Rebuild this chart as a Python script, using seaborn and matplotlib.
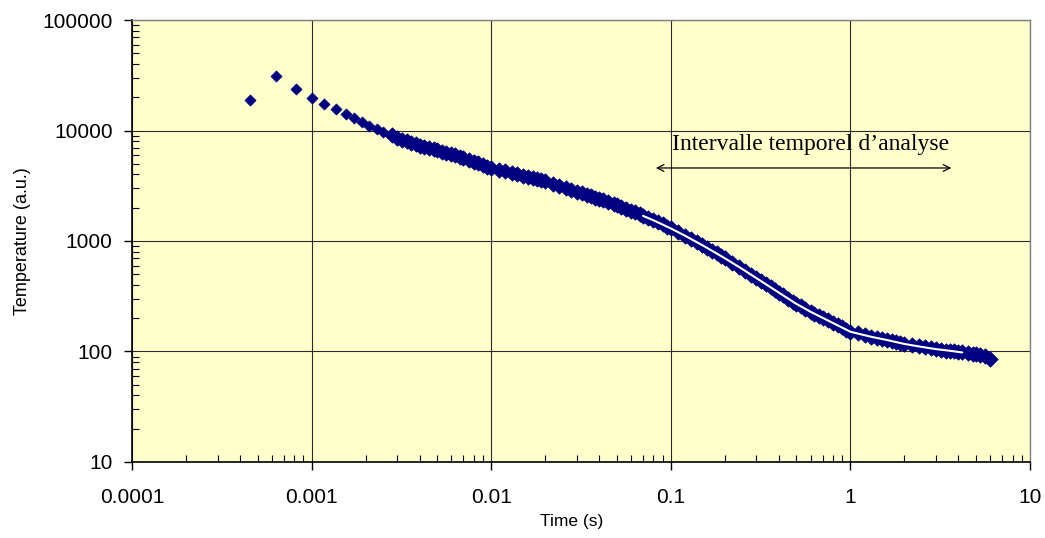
import matplotlib
matplotlib.use("Agg")
import matplotlib.pyplot as plt
import seaborn as sns
import pandas as pd
from matplotlib.ticker import LogLocator, FixedLocator, FixedFormatter, NullFormatter

# ---- data ----
time_s = [
    0.000455, 0.000635, 0.000822, 0.00100, 0.00118, 0.00137, 0.00156, 0.00173,
    0.00192, 0.00210, 0.00230, 0.00251,
    0.0028, 0.0030, 0.0032, 0.0034, 0.0036, 0.0038, 0.0040, 0.0042, 0.0045,
    0.0048, 0.0050, 0.0053, 0.0056, 0.0060, 0.0063, 0.0067, 0.0070, 0.0075,
    0.0080, 0.0085, 0.0090, 0.0095,
    0.010, 0.011, 0.012, 0.013, 0.014, 0.015, 0.016, 0.017, 0.018, 0.019,
    0.020, 0.022, 0.024, 0.026, 0.028, 0.030, 0.032, 0.034, 0.036, 0.038,
    0.040, 0.042, 0.045, 0.048, 0.050, 0.053, 0.056, 0.060, 0.063, 0.067,
    0.070, 0.075, 0.080, 0.085, 0.090, 0.095,
    0.10, 0.11, 0.12, 0.13, 0.14, 0.15, 0.16, 0.17, 0.18, 0.19,
    0.20, 0.22, 0.24, 0.26, 0.28, 0.30, 0.32, 0.34, 0.36, 0.38,
    0.40, 0.42, 0.45, 0.48, 0.50, 0.53, 0.56, 0.60, 0.63, 0.67,
    0.70, 0.75, 0.80, 0.85, 0.90, 0.95,
    1.0, 1.1, 1.2, 1.3, 1.4, 1.5, 1.6, 1.7, 1.8, 1.9,
    2.0, 2.2, 2.4, 2.6, 2.8, 3.0, 3.2, 3.4, 3.6, 3.8,
    4.0, 4.2, 4.5, 4.8, 5.0, 5.3, 5.6, 6.0,
]
temperature = [
    18900, 31100, 23770, 19550, 17380, 15660, 14100, 12980,
    11940, 11090, 10320, 9690,
    9020, 8610, 8260, 8000, 7745, 7520, 7310, 7160, 6930,
    6750, 6610, 6440, 6280, 6100, 5960, 5770, 5620, 5420,
    5220, 5050, 4880, 4710,
    4570, 4406, 4266, 4140, 4018, 3908, 3810, 3715, 3622, 3540,
    3465, 3304, 3162, 3034, 2911, 2800, 2698, 2612, 2535, 2460,
    2393, 2328, 2244, 2163, 2116, 2037, 1963, 1875, 1816, 1738,
    1687, 1611, 1542, 1472, 1413, 1352,
    1303, 1202, 1117, 1040, 975, 916, 863, 816, 773, 733,
    698, 635, 582, 536, 497, 461, 431, 405, 381, 360,
    341, 324, 301, 282, 270, 256, 244, 229, 219, 208,
    201, 191, 181, 173, 165, 158,
    151, 146, 141, 136, 133, 130, 127, 124, 122, 119,
    117, 114, 111, 109, 107, 105, 104, 102, 101, 100,
    99.3, 98.2, 96.6, 95.3, 94.4, 92.3, 90.4, 86.3,
]
n_sparse = 12  # first, individually visible samples

fit_time = [0.07, 0.08, 0.10, 0.12, 0.15, 0.20, 0.25, 0.30, 0.40, 0.50,
            0.60, 0.80, 1.0, 1.3, 1.6, 2.0, 2.5, 3.0, 3.5, 4.2]
fit_temp = [1690, 1540, 1300, 1117, 916, 698, 558, 461, 341, 270,
            229, 181, 151, 136, 127, 117, 110, 105, 102, 98]

x_ticks = [0.0001, 0.001, 0.01, 0.1, 1, 10]
x_tick_labels = ["0.0001", "0.001", "0.01", "0.1", "1", "10"]
y_ticks = [10, 100, 1000, 10000, 100000]
y_tick_labels = ["10", "100", "1000", "10000", "100000"]

interval_start, interval_end = 0.0826, 3.65
interval_level = 4580
interval_text = "Intervalle temporel d\u2019analyse"

# ---- plotting ----
sns.set_theme(style="white")
plt.rcParams["font.family"] = ["Liberation Sans", "DejaVu Sans"]

df = pd.DataFrame({"t": time_s, "T": temperature})
df_sparse = df.iloc[:n_sparse]
df_dense = df.iloc[n_sparse:]
fit = pd.DataFrame({"t": fit_time, "T": fit_temp})

fig = plt.figure(figsize=(10.45, 5.38), dpi=100)
ax = fig.add_axes([0.1263, 0.1413, 0.8593, 0.8215])
ax.set_facecolor("#FFFFCC")

ax.set_xscale("log")
ax.set_yscale("log")
ax.set_xlim(0.0001, 10)
ax.set_ylim(10, 100000)

ax.grid(True, which="major", color="#2a2a2a", linewidth=0.8)
ax.set_axisbelow(True)

sns.scatterplot(data=df_sparse, x="t", y="T", ax=ax, marker="D", s=32,
                color="#000080", edgecolor="#000080", linewidth=0.5, zorder=3)
sns.scatterplot(data=df_dense, x="t", y="T", ax=ax, marker="D", s=62,
                color="#000080", edgecolor="#000080", linewidth=0.5, zorder=3)
sns.lineplot(data=fit, x="t", y="T", ax=ax, color="white", linewidth=1.5,
             zorder=4, sort=True, estimator=None)

ax.xaxis.set_major_locator(FixedLocator(x_ticks))
ax.xaxis.set_major_formatter(FixedFormatter(x_tick_labels))
ax.yaxis.set_major_locator(FixedLocator(y_ticks))
ax.yaxis.set_major_formatter(FixedFormatter(y_tick_labels))
ax.xaxis.set_minor_locator(LogLocator(base=10, subs=range(2, 10), numticks=20))
ax.yaxis.set_minor_locator(LogLocator(base=10, subs=range(2, 10), numticks=20))
ax.xaxis.set_minor_formatter(NullFormatter())
ax.yaxis.set_minor_formatter(NullFormatter())

ax.tick_params(which="major", direction="out", length=6, width=1, color="black",
               labelsize=15, pad=8, labelcolor="black")
ax.tick_params(which="minor", direction="in", length=5, width=0.8, color="black")
ax.tick_params(axis="x", which="major", pad=13)
ax.tick_params(bottom=True, left=True, top=False, right=False, which="both")

for side in ("left", "bottom"):
    ax.spines[side].set_color("black")
    ax.spines[side].set_linewidth(1.2)
for side in ("top", "right"):
    ax.spines[side].set_color("#808080")
    ax.spines[side].set_linewidth(1.0)

ax.set_xlabel("Time (s)", fontsize=12.5, color="black")
ax.xaxis.set_label_coords(0.49, -0.118)
ax.set_ylabel("Temperature (a.u.)", fontsize=13, labelpad=8, color="black")

ax.annotate("", xy=(interval_end, interval_level), xytext=(interval_start, interval_level),
            arrowprops=dict(arrowstyle="<->", color="black", lw=0.9,
                            shrinkA=0, shrinkB=0, mutation_scale=12), zorder=5)
ax.text(0.6, 7500, interval_text, ha="center", va="center", fontsize=17,
        family=["Liberation Serif", "DejaVu Serif"], color="black", zorder=5)

fig.savefig("out.png", dpi=100, facecolor="white")
